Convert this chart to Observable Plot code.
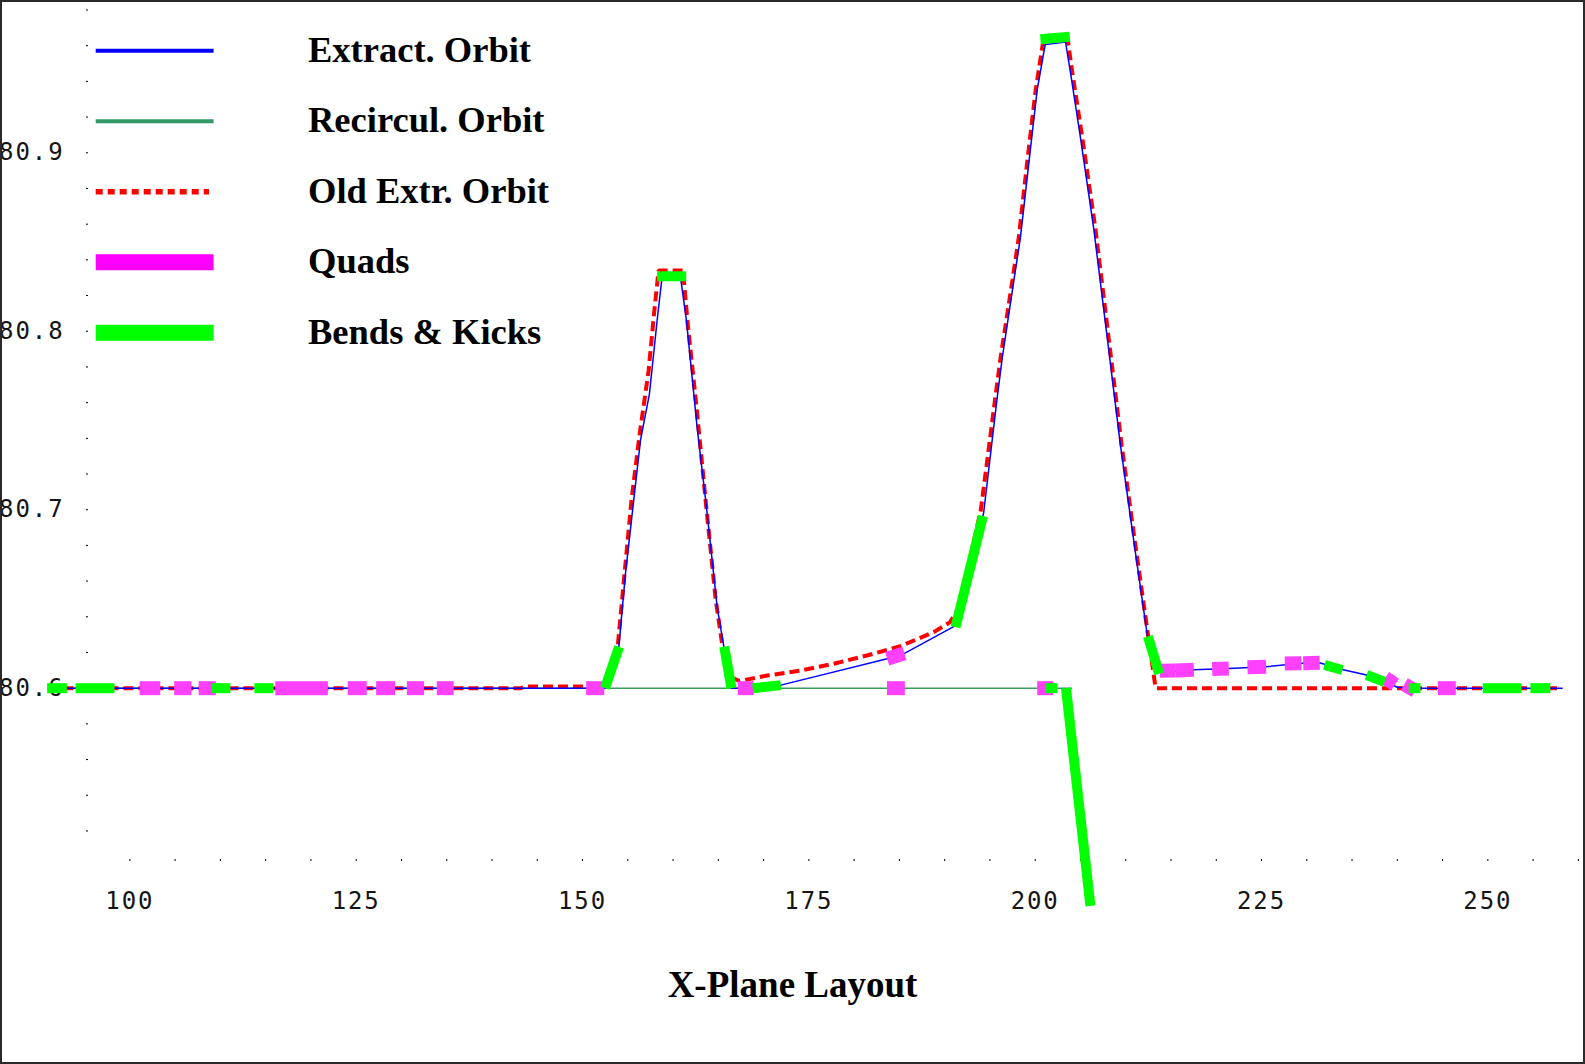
<!DOCTYPE html>
<html>
<head>
<meta charset="utf-8">
<title>X-Plane Layout</title>
<script src="https://cdn.jsdelivr.net/npm/d3@7"></script>
<script src="https://cdn.jsdelivr.net/npm/@observablehq/plot@0.6"></script>
<style>
  html, body { margin: 0; padding: 0; background: #fff; }
  #wrap { position: relative; width: 1585px; height: 1064px; overflow: hidden; background: #fff; }
  #chart svg text { letter-spacing: 1.9px; }
  #overlay { position: absolute; left: 0; top: 0; pointer-events: none; }
  #frame { position: absolute; left: 0; top: 0; width: 1585px; height: 1064px;
           box-sizing: border-box; border: 2px solid #2a2a2a; pointer-events: none; }
</style>
</head>
<body>
<div id="wrap">
  <div id="chart"></div>
  <svg id="overlay" width="1585" height="1064"></svg>
  <div id="frame"></div>
</div>
<script>
// ---- Orbit data: [s (m), x (m)] ----
const extractOrbit = [
  [91.0, 80.6], [152.45, 80.6], [154.0, 80.6228], [154.74, 80.6641], [156.4, 80.7388],
  [157.39, 80.7649], [158.24, 80.806], [158.8, 80.831], [160.8, 80.831], [161.48, 80.806],
  [162.66, 80.746], [163.69, 80.7014], [164.87, 80.6454], [165.62, 80.623], [166.45, 80.6],
  [168.8, 80.6], [171.9, 80.6017], [183.65, 80.6165], [185.56, 80.6195], [191.0, 80.6345],
  [194.3, 80.698], [195.8, 80.7627], [196.35, 80.7846], [197.64, 80.8283], [198.37, 80.8526],
  [199.29, 80.8939], [200.22, 80.9352], [201.11, 80.9607], [203.35, 80.962], [203.9, 80.9449],
  [205.0, 80.9085], [206.47, 80.8574], [207.95, 80.7967], [209.42, 80.736], [210.89, 80.6825],
  [212.4, 80.6291], [213.7, 80.609], [217.5, 80.6103], [221.4, 80.611], [225.5, 80.612],
  [229.5, 80.614], [231.4, 80.6142], [233.9, 80.6105], [236.6, 80.6074], [238.6, 80.6037],
  [240.0, 80.6005], [241.5, 80.6], [258.2, 80.6]
];

const recircOrbit = [
  [91.0, 80.6], [204.0, 80.6]
];

const oldExtrOrbit = [
  [91.0, 80.6], [143.2, 80.6], [143.6, 80.601], [152.3, 80.601], [153.9, 80.624],
  [154.6, 80.662], [155.4, 80.705], [156.3, 80.742], [157.3, 80.778], [157.9, 80.81],
  [158.4, 80.834], [161.1, 80.834], [161.6, 80.805], [162.6, 80.757], [163.6, 80.705],
  [164.7, 80.65], [165.5, 80.622], [166.5, 80.606], [167.3, 80.604], [170.4, 80.6071],
  [174.1, 80.6099], [177.75, 80.6137], [181.4, 80.6183], [185.1, 80.6235], [188.8, 80.6314],
  [190.6, 80.637], [191.6, 80.645], [194.0, 80.7], [195.6, 80.763], [196.2, 80.786],
  [197.5, 80.829], [198.2, 80.853], [199.1, 80.894], [200.05, 80.935], [200.9, 80.963],
  [203.6, 80.963], [204.1, 80.945], [205.2, 80.9085], [206.65, 80.8574], [208.1, 80.7967],
  [209.55, 80.736], [211.0, 80.6825], [212.4, 80.632], [213.3, 80.6], [258.2, 80.6]
];

// ---- Lattice elements: [s1, x1, s2, x2] ----
const quads = [
  [101.08, 80.6, 103.35, 80.6], [104.9, 80.6, 106.8, 80.6], [107.6, 80.6, 109.5, 80.6],
  [116.06, 80.6, 121.87, 80.6], [124.06, 80.6, 126.16, 80.6], [127.2, 80.6, 129.3, 80.6],
  [130.6, 80.6, 132.5, 80.6], [133.9, 80.6, 135.76, 80.6], [150.4, 80.6, 152.4, 80.6],
  [167.15, 80.6, 168.9, 80.6], [183.65, 80.6165, 185.56, 80.6195], [183.63, 80.6, 185.6, 80.6],
  [200.22, 80.6, 201.99, 80.6], [213.76, 80.6098, 215.5, 80.6099], [215.5, 80.6099, 217.52, 80.6103],
  [219.55, 80.6107, 221.38, 80.611], [223.45, 80.6117, 225.5, 80.612], [227.57, 80.6138, 229.41, 80.614],
  [229.6, 80.614, 231.43, 80.6142], [238.65, 80.6059, 239.75, 80.602], [240.77, 80.6021, 241.97, 80.5986],
  [244.47, 80.6, 246.46, 80.6]
];

const bends = [
  [90.86, 80.6, 93.04, 80.6], [94.0, 80.6, 98.3, 80.6], [109.07, 80.6, 111.1, 80.6],
  [113.75, 80.6, 115.84, 80.6], [152.48, 80.6, 154.03, 80.6231], [158.24, 80.8308, 161.45, 80.8308],
  [165.65, 80.6233, 166.45, 80.6], [168.8, 80.6, 171.9, 80.6017], [191.2, 80.6342, 194.23, 80.6965],
  [200.58, 80.9636, 203.82, 80.965], [201.1, 80.6, 202.46, 80.6], [203.4, 80.6, 206.1, 80.478],
  [212.45, 80.629, 213.7, 80.608], [231.95, 80.613, 233.93, 80.6102], [236.6, 80.6074, 238.6, 80.6035],
  [241.26, 80.6, 242.56, 80.6], [249.44, 80.6, 253.71, 80.6], [254.7, 80.6, 256.9, 80.6]
];

// ---- Axis ticks ----
const xLabelTicks = [100, 125, 150, 175, 200, 225, 250];
const xDotTicks = [100, 105, 110, 115, 120, 125, 130, 135, 140, 145, 150, 155, 160, 165, 170, 175,
                   180, 185, 190, 195, 200, 205, 210, 215, 220, 225, 230, 235, 240, 245, 250, 255, 260];
const yLabelTicks = [80.6, 80.7, 80.8, 80.9];
const yDotTicks = [80.52, 80.54, 80.56, 80.58, 80.6, 80.62, 80.64, 80.66, 80.68, 80.7, 80.72, 80.74,
                   80.76, 80.78, 80.8, 80.82, 80.84, 80.86, 80.88, 80.9, 80.92, 80.94, 80.96, 80.98];

// ---- Legend ----
const legendLabels = ["Extract. Orbit", "Recircul. Orbit", "Old Extr. Orbit", "Quads", "Bends & Kicks"];
const legendColors = ["#0000ff", "#339966", "#ff0000", "#ff00ff", "#00ff00"];
const legendWidths = [4, 4, 5.5, 16, 16];
const legendDashes = [null, null, "7,5", null, null];

const pts = a => a.map(([s, y]) => ({s, y}));
const segs = a => a.map(([s1, y1, s2, y2]) => ({s1, y1, s2, y2}));

const tickFont = {fontSize: 24, fontFamily: "'DejaVu Sans Mono', monospace", fill: "#151515"};

const chart = Plot.plot({
  width: 1585,
  height: 1064,
  marginLeft: 88,
  marginRight: 4.4,
  marginTop: 9.5,
  marginBottom: 205,
  x: {domain: [95.43, 260.3], label: null},
  y: {domain: [80.504, 80.98], label: null},
  style: {background: "transparent", overflow: "visible"},
  marks: [
    Plot.axisX(xDotTicks, {tickSize: 2, stroke: "#000", fill: "none", label: null}),
    Plot.axisX(xLabelTicks, {tickSize: 0, tickPadding: 32, ...tickFont, tickFormat: d => String(d), label: null}),
    Plot.axisY(yDotTicks, {tickSize: 2, stroke: "#000", fill: "none", label: null}),
    Plot.axisY(yLabelTicks, {tickSize: 0, tickPadding: 24, ...tickFont, tickFormat: d => d.toFixed(1), label: null}),
    Plot.line(pts(recircOrbit), {x: "s", y: "y", stroke: "#3a9d5d", strokeWidth: 1.5}),
    Plot.line(pts(oldExtrOrbit), {x: "s", y: "y", stroke: "#ff0000", strokeWidth: 4,
      strokeDasharray: "10,5", strokeLinecap: "butt", strokeLinejoin: "miter"}),
    Plot.line(pts(extractOrbit), {x: "s", y: "y", stroke: "#0000ff", strokeWidth: 1.5}),
    Plot.link(segs(quads), {x1: "s1", y1: "y1", x2: "s2", y2: "y2", stroke: "#ff40ff",
      strokeWidth: 14, strokeLinecap: "butt"}),
    Plot.link(segs(bends), {x1: "s1", y1: "y1", x2: "s2", y2: "y2", stroke: "#00ff00",
      strokeWidth: 10, strokeLinecap: "butt"})
  ]
});
document.getElementById("chart").appendChild(chart);

// Legend block and x-axis title drawn in an overlay layer
const overlay = d3.select("#overlay");
const rowY = i => 50.7 + 70.5 * i;
const legend = overlay.append("g");
legendLabels.forEach((label, i) => {
  legend.append("line")
    .attr("x1", 95.7).attr("x2", i === 2 ? 209 : 213.6)
    .attr("y1", rowY(i)).attr("y2", rowY(i))
    .attr("stroke", legendColors[i])
    .attr("stroke-width", legendWidths[i])
    .attr("stroke-dasharray", legendDashes[i]);
  legend.append("text")
    .attr("x", 308).attr("y", rowY(i) + 11)
    .attr("font-family", "'Liberation Serif', 'Times New Roman', serif")
    .attr("font-weight", "bold")
    .attr("font-size", 36.5)
    .attr("fill", "#000")
    .text(label);
});
overlay.append("text")
  .attr("x", 792.5).attr("y", 996.7)
  .attr("text-anchor", "middle")
  .attr("font-family", "'Liberation Serif', 'Times New Roman', serif")
  .attr("font-weight", "bold")
  .attr("font-size", 37)
  .attr("fill", "#000")
  .text("X-Plane Layout");
</script>
</body>
</html>
